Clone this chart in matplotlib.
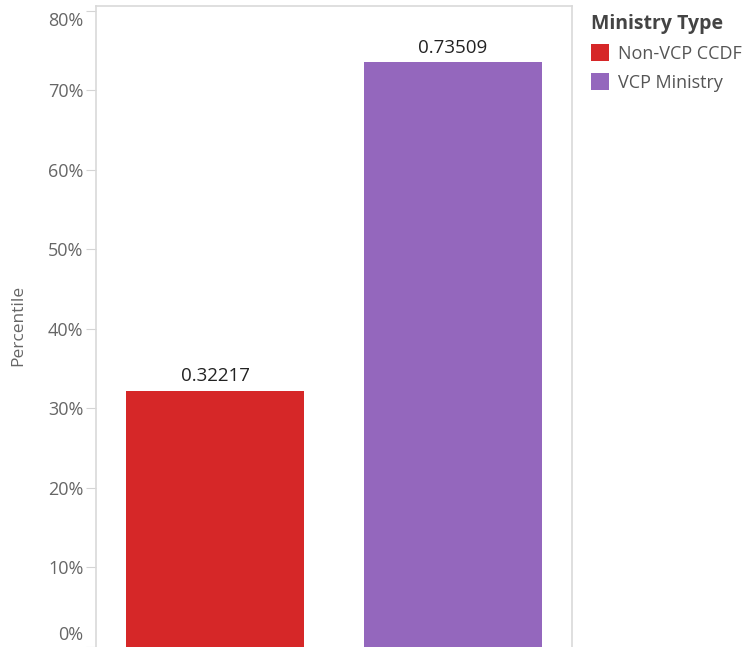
import matplotlib.pyplot as plt
import matplotlib.transforms as mtransforms
from matplotlib.patches import Patch
from matplotlib.ticker import FuncFormatter

categories = ['Non-VCP CCDF', 'VCP Ministry']
values = [0.32217, 0.73509]
colors = ['#d62728', '#9467bd']
yticks = [0, 0.1, 0.2, 0.3, 0.4, 0.5, 0.6, 0.7, 0.8]

plt.rcParams['font.family'] = ['Open Sans', 'DejaVu Sans']

fig = plt.figure(figsize=(7.52, 6.47), dpi=100)
ax = fig.add_axes([96 / 752, 0, (572 - 96) / 752, (647 - 6) / 647])

x = range(len(categories))
bars = ax.bar(x, values, width=0.752, color=colors)
for i, v in enumerate(values):
    ax.annotate(f'{v:.5f}', (i, v), xytext=(0, 4), textcoords='offset points',
                ha='center', va='bottom', fontsize=13.5, color='#222222')

ax.set_xlim(-0.5, 1.5)
ax.set_ylim(0.002, 0.806)
ax.set_xticks([])
ax.set_yticks(yticks)
ax.yaxis.set_major_formatter(FuncFormatter(lambda v, p: f'{v * 100:.0f}%'))
ax.tick_params(axis='y', length=7, color='#d4d4d4', labelcolor='#666666', labelsize=13, pad=2)
for s in ax.spines.values():
    s.set_color('#d9d9d9')
    s.set_linewidth(1.2)
ax.spines['bottom'].set_visible(False)

# edge labels are nudged inside the figure like the original
labels = ax.get_yticklabels()
labels[0].set_transform(labels[0].get_transform() + mtransforms.ScaledTranslation(0, 14 / 100, fig.dpi_scale_trans))
labels[-1].set_transform(labels[-1].get_transform() + mtransforms.ScaledTranslation(0, -8 / 100, fig.dpi_scale_trans))

fig.text(18 / 752, 1 - 325 / 647, 'Percentile', rotation=90, ha='center', va='center',
         fontsize=12.5, color='#666666')

handles = [Patch(facecolor=c, edgecolor='none') for c in colors]
leg = fig.legend(handles, categories, title='Ministry Type', loc='upper left',
                 bbox_to_anchor=(584 / 752, 1 - 7 / 647), frameon=False,
                 fontsize=13, title_fontproperties={'weight': 'bold', 'size': 14},
                 handlelength=1.0, handleheight=1.1, handletextpad=0.5, labelspacing=0.55,
                 borderaxespad=0)
leg._legend_box.align = 'left'
for t in leg.get_texts():
    t.set_color('#555555')
leg.get_title().set_color('#444444')

fig.savefig('out.png', dpi=100)
